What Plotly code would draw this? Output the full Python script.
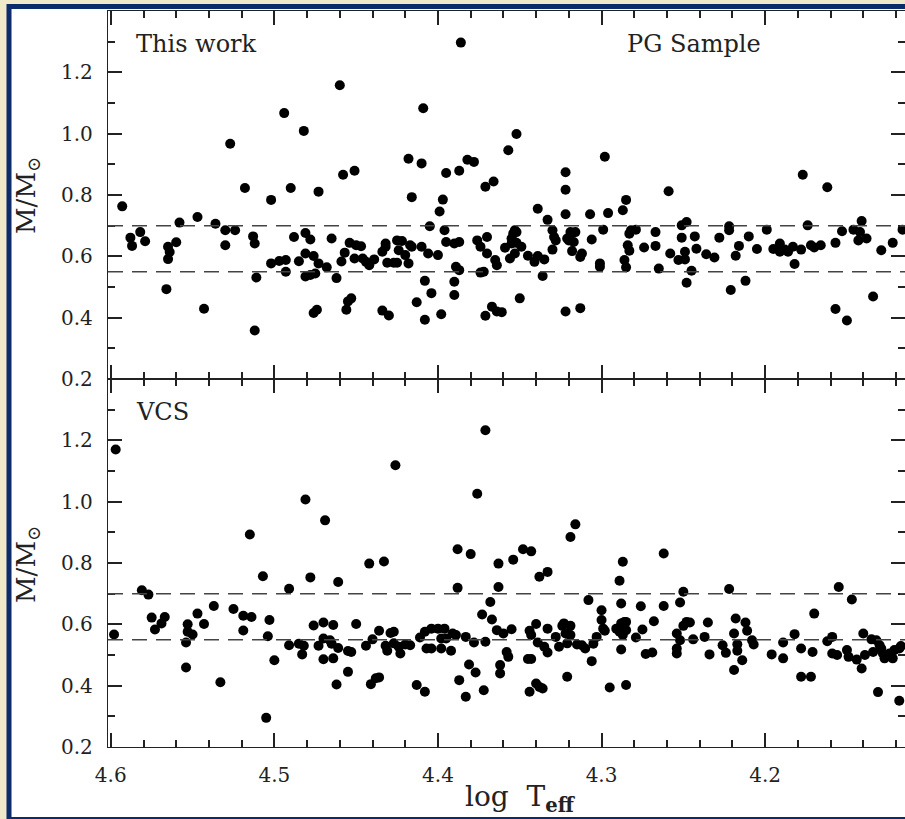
import plotly.graph_objects as go

# ---------------- data ----------------
xtick_vals = [4.6, 4.5, 4.4, 4.3, 4.2]
xtick_text = ["4.6", "4.5", "4.4", "4.3", "4.2"]
ytick_vals = [0.2, 0.4, 0.6, 0.8, 1.0, 1.2]
ytick_text = ["0.2", "0.4", "0.6", "0.8", "1.0", "1.2"]
ref_masses = [0.55, 0.70]

# Upper panel: "This work" / PG Sample
top_logT = [
    4.593, 4.588, 4.587, 4.582, 4.579, 4.566, 4.565, 4.564, 4.565, 4.560,
    4.558, 4.547, 4.543, 4.536, 4.530, 4.530, 4.524, 4.518, 4.513, 4.512,
    4.511, 4.512, 4.502, 4.502, 4.497, 4.493, 4.493, 4.490, 4.488, 4.485,
    4.481, 4.481, 4.478, 4.476, 4.481, 4.478, 4.475, 4.473, 4.473, 4.476,
    4.474, 4.468, 4.465, 4.462, 4.459, 4.458, 4.451, 4.457, 4.454, 4.456,
    4.455, 4.453, 4.451, 4.447, 4.450, 4.446, 4.444, 4.442, 4.439, 4.434,
    4.432, 4.432, 4.434, 4.430, 4.431, 4.427, 4.425, 4.425, 4.422, 4.424,
    4.420, 4.418, 4.418, 4.416, 4.417, 4.416, 4.410, 4.410, 4.406, 4.405,
    4.408, 4.404, 4.413, 4.408, 4.400, 4.398, 4.399, 4.397, 4.396, 4.395,
    4.395, 4.390, 4.387, 4.389, 4.387, 4.390, 4.390, 4.387, 4.382, 4.378,
    4.376, 4.374, 4.370, 4.371, 4.366, 4.370, 4.374, 4.372, 4.365, 4.364,
    4.367, 4.364, 4.371, 4.527, 4.494, 4.482, 4.460, 4.409, 4.386, 4.357,
    4.352, 4.361, 4.359, 4.356, 4.355, 4.354, 4.353, 4.352, 4.355, 4.352,
    4.353, 4.350, 4.349, 4.345, 4.341, 4.339, 4.339, 4.336, 4.335, 4.333,
    4.330, 4.330, 4.329, 4.328, 4.322, 4.322, 4.322, 4.321, 4.319, 4.318,
    4.316, 4.320, 4.317, 4.318, 4.313, 4.312, 4.322, 4.313, 4.307, 4.306,
    4.301, 4.301, 4.299, 4.298, 4.296, 4.287, 4.285, 4.283, 4.282, 4.279,
    4.284, 4.283, 4.286, 4.285, 4.274, 4.267, 4.267, 4.265, 4.259, 4.258,
    4.253, 4.251, 4.248, 4.251, 4.249, 4.249, 4.248, 4.245, 4.243, 4.242,
    4.236, 4.231, 4.228, 4.222, 4.222, 4.221, 4.218, 4.216, 4.212, 4.210,
    4.205, 4.199, 4.195, 4.191, 4.191, 4.188, 4.186, 4.183, 4.182, 4.178,
    4.177, 4.174, 4.172, 4.170, 4.166, 4.162, 4.157, 4.157, 4.153, 4.150,
    4.146, 4.143, 4.141, 4.142, 4.138, 4.134, 4.129, 4.122, 4.116,
]
top_mass = [
    0.763, 0.661, 0.634, 0.679, 0.649, 0.493, 0.591, 0.614, 0.631, 0.646,
    0.710, 0.728, 0.429, 0.706, 0.685, 0.636, 0.685, 0.823, 0.665, 0.642,
    0.531, 0.358, 0.784, 0.577, 0.585, 0.588, 0.550, 0.823, 0.663, 0.584,
    0.676, 0.609, 0.655, 0.601, 0.534, 0.539, 0.544, 0.577, 0.811, 0.415,
    0.426, 0.564, 0.658, 0.529, 0.583, 0.866, 0.879, 0.612, 0.644, 0.426,
    0.453, 0.463, 0.593, 0.633, 0.636, 0.593, 0.582, 0.571, 0.590, 0.615,
    0.642, 0.631, 0.423, 0.407, 0.579, 0.579, 0.579, 0.652, 0.650, 0.620,
    0.604, 0.577, 0.918, 0.793, 0.636, 0.631, 0.903, 0.631, 0.609, 0.698,
    0.520, 0.480, 0.450, 0.393, 0.604, 0.411, 0.746, 0.785, 0.685, 0.872,
    0.647, 0.642, 0.647, 0.566, 0.555, 0.517, 0.474, 0.879, 0.915, 0.908,
    0.652, 0.631, 0.663, 0.827, 0.844, 0.609, 0.547, 0.550, 0.588, 0.571,
    0.436, 0.420, 0.406, 0.967, 1.067, 1.009, 1.158, 1.083, 1.297, 0.946,
    0.999, 0.418, 0.628, 0.593, 0.658, 0.674, 0.685, 0.679, 0.642, 0.644,
    0.609, 0.463, 0.631, 0.602, 0.582, 0.755, 0.601, 0.536, 0.590, 0.719,
    0.622, 0.685, 0.663, 0.652, 0.874, 0.817, 0.737, 0.658, 0.679, 0.676,
    0.679, 0.652, 0.647, 0.617, 0.598, 0.609, 0.420, 0.431, 0.737, 0.655,
    0.577, 0.566, 0.687, 0.925, 0.741, 0.750, 0.784, 0.674, 0.685, 0.687,
    0.636, 0.618, 0.588, 0.564, 0.629, 0.679, 0.634, 0.560, 0.812, 0.609,
    0.588, 0.701, 0.712, 0.661, 0.615, 0.590, 0.514, 0.553, 0.665, 0.625,
    0.607, 0.596, 0.661, 0.698, 0.685, 0.490, 0.602, 0.634, 0.520, 0.665,
    0.624, 0.687, 0.624, 0.642, 0.615, 0.622, 0.615, 0.631, 0.575, 0.622,
    0.866, 0.701, 0.636, 0.629, 0.636, 0.825, 0.644, 0.428, 0.682, 0.391,
    0.687, 0.652, 0.715, 0.679, 0.658, 0.469, 0.620, 0.644, 0.687,
]

# Lower panel: VCS
vcs_logT = [
    4.598, 4.581, 4.577, 4.575, 4.573, 4.569, 4.567, 4.554, 4.554, 4.553,
    4.553, 4.550, 4.547, 4.543, 4.537, 4.533, 4.525, 4.519, 4.519, 4.514,
    4.515, 4.507, 4.503, 4.504, 4.505, 4.500, 4.491, 4.491, 4.485, 4.482,
    4.483, 4.481, 4.478, 4.476, 4.473, 4.470, 4.470, 4.470, 4.469, 4.466,
    4.464, 4.465, 4.464, 4.461, 4.461, 4.462, 4.455, 4.455, 4.453, 4.450,
    4.444, 4.442, 4.441, 4.440, 4.438, 4.436, 4.436, 4.433, 4.432, 4.431,
    4.429, 4.427, 4.427, 4.424, 4.423, 4.420, 4.417, 4.413, 4.411, 4.408,
    4.408, 4.407, 4.404, 4.404, 4.400, 4.398, 4.398, 4.396, 4.395, 4.392,
    4.391, 4.389, 4.388, 4.388, 4.387, 4.383, 4.383, 4.380, 4.381, 4.378,
    4.377, 4.376, 4.373, 4.372, 4.371, 4.368, 4.367, 4.364, 4.363, 4.363,
    4.362, 4.362, 4.597, 4.371, 4.426, 4.360, 4.358, 4.357, 4.355, 4.354,
    4.348, 4.343, 4.344, 4.343, 4.340, 4.345, 4.343, 4.344, 4.340, 4.338,
    4.336, 4.338, 4.333, 4.339, 4.335, 4.333, 4.333, 4.328, 4.326, 4.324,
    4.323, 4.322, 4.321, 4.319, 4.319, 4.321, 4.319, 4.316, 4.315, 4.312,
    4.310, 4.308, 4.306, 4.305, 4.303, 4.300, 4.300, 4.299, 4.298, 4.295,
    4.291, 4.289, 4.288, 4.287, 4.288, 4.286, 4.285, 4.289, 4.287, 4.285,
    4.288, 4.285, 4.279, 4.276, 4.275, 4.273, 4.269, 4.268, 4.262, 4.262,
    4.254, 4.254, 4.254, 4.252, 4.252, 4.250, 4.250, 4.248, 4.246, 4.244,
    4.237, 4.235, 4.234, 4.226, 4.224, 4.222, 4.219, 4.219, 4.218, 4.217,
    4.217, 4.214, 4.212, 4.211, 4.208, 4.207, 4.196, 4.189, 4.189, 4.182,
    4.178, 4.178, 4.172, 4.171, 4.170, 4.162, 4.159, 4.159, 4.156, 4.155,
    4.150, 4.149, 4.147, 4.144, 4.141, 4.140, 4.139, 4.135, 4.134, 4.132,
    4.131, 4.130, 4.129, 4.128, 4.127, 4.124, 4.122, 4.121, 4.118, 4.117, 4.118,
]
vcs_mass = [
    0.567, 0.711, 0.697, 0.622, 0.583, 0.603, 0.624, 0.459, 0.541, 0.600,
    0.576, 0.567, 0.635, 0.601, 0.660, 0.411, 0.650, 0.628, 0.580, 0.624,
    0.893, 0.757, 0.614, 0.561, 0.295, 0.483, 0.716, 0.532, 0.537, 0.530,
    0.502, 1.007, 0.753, 0.596, 0.530, 0.606, 0.554, 0.486, 0.939, 0.548,
    0.598, 0.537, 0.489, 0.738, 0.523, 0.404, 0.445, 0.513, 0.510, 0.601,
    0.530, 0.798, 0.405, 0.551, 0.424, 0.427, 0.579, 0.805, 0.530, 0.514,
    0.572, 0.576, 0.538, 0.527, 0.505, 0.534, 0.532, 0.402, 0.557, 0.380,
    0.576, 0.521, 0.586, 0.521, 0.586, 0.554, 0.521, 0.586, 0.554, 0.514,
    0.570, 0.565, 0.845, 0.719, 0.418, 0.364, 0.559, 0.829, 0.469, 0.541,
    0.443, 1.026, 0.632, 0.385, 0.543, 0.673, 0.616, 0.581, 0.798, 0.722,
    0.467, 0.440, 1.170, 1.233, 1.119, 0.570, 0.510, 0.494, 0.584, 0.811,
    0.845, 0.838, 0.579, 0.565, 0.601, 0.487, 0.487, 0.380, 0.407, 0.396,
    0.391, 0.755, 0.771, 0.541, 0.527, 0.508, 0.586, 0.559, 0.527, 0.595,
    0.603, 0.570, 0.538, 0.595, 0.565, 0.429, 0.885, 0.926, 0.534, 0.532,
    0.521, 0.679, 0.480, 0.537, 0.559, 0.646, 0.614, 0.586, 0.579, 0.394,
    0.586, 0.742, 0.668, 0.804, 0.603, 0.608, 0.608, 0.576, 0.565, 0.581,
    0.518, 0.402, 0.557, 0.659, 0.583, 0.503, 0.508, 0.610, 0.660, 0.831,
    0.521, 0.505, 0.570, 0.548, 0.671, 0.706, 0.595, 0.608, 0.606, 0.551,
    0.559, 0.606, 0.502, 0.532, 0.507, 0.715, 0.570, 0.451, 0.619, 0.535,
    0.514, 0.483, 0.606, 0.579, 0.548, 0.534, 0.502, 0.541, 0.489, 0.568,
    0.521, 0.429, 0.429, 0.510, 0.635, 0.545, 0.559, 0.505, 0.500, 0.722,
    0.516, 0.494, 0.681, 0.485, 0.456, 0.570, 0.500, 0.551, 0.510, 0.548,
    0.379, 0.532, 0.521, 0.505, 0.489, 0.505, 0.489, 0.516, 0.521, 0.529, 0.351,
]

assert len(top_logT) == len(top_mass)
assert len(vcs_logT) == len(vcs_mass)

# ---------------- style ----------------
FONT = "DejaVu Serif"
AX = "#222222"
NAVY = "#0b2b6b"
CREAM = "#efe9c9"

W, H = 905, 819
ML, MR, MT, MB = 108, 0, 11, 72
PW, PH = W - ML - MR, H - MT - MB


def px_x(px):
    return (px - ML) / PW


def px_y(py):
    return (H - MB - py) / PH


marker = dict(color="black", size=10, line=dict(width=0))

fig = go.Figure()
fig.add_trace(go.Scatter(x=top_logT, y=top_mass, mode="markers", marker=marker,
                         xaxis="x2", yaxis="y2", showlegend=False, hoverinfo="x+y"))
fig.add_trace(go.Scatter(x=vcs_logT, y=vcs_mass, mode="markers", marker=marker,
                         xaxis="x", yaxis="y", showlegend=False, hoverinfo="x+y"))

xcommon = dict(
    range=[4.6017, 4.1145], showgrid=False, zeroline=False,
    showline=True, linecolor=AX, linewidth=1.3, mirror="allticks",
    ticks="inside", ticklen=14, tickwidth=1.5, tickcolor=AX,
    tickmode="array", tickvals=xtick_vals, ticktext=xtick_text,
    minor=dict(ticks="inside", ticklen=7, tickwidth=1.5, tickcolor=AX,
               tick0=4.6, dtick=0.02, showgrid=False),
    tickfont=dict(family=FONT, size=20, color=AX),
)
ycommon = dict(
    range=[0.2, 1.4], showgrid=False, zeroline=False,
    showline=True, linecolor=AX, linewidth=1.3, mirror="allticks",
    ticks="inside", ticklen=14, tickwidth=1.5, tickcolor=AX,
    tickmode="array", tickvals=ytick_vals, ticktext=ytick_text,
    minor=dict(ticks="inside", ticklen=7, tickwidth=1.5, tickcolor=AX,
               tickmode="array", tickvals=[0.3, 0.5, 0.7, 0.9, 1.1, 1.3],
               showgrid=False),
    tickfont=dict(family=FONT, size=20, color=AX),
    ticklabelstandoff=10,
)

fig.update_layout(
    width=W, height=H, autosize=False,
    margin=dict(l=ML, r=MR, t=MT, b=MB, pad=0),
    paper_bgcolor=CREAM, plot_bgcolor="white",
    xaxis=dict(domain=[0, 1], anchor="y", ticklabelstandoff=10, **xcommon),
    xaxis2=dict(domain=[0, 1], anchor="y2", matches="x", showticklabels=False, **xcommon),
    yaxis=dict(domain=[0, 0.5], anchor="x", **ycommon),
    yaxis2=dict(domain=[0.5, 1], anchor="x2", **ycommon),
)

# frame (white card with navy border)
fig.add_shape(type="rect", xref="paper", yref="paper", layer="below",
              x0=px_x(9), x1=px_x(912), y0=px_y(819.5), y1=px_y(6.5),
              fillcolor="white", line=dict(color=NAVY, width=5))

# dashed reference lines
for yref in ["y", "y2"]:
    for m in ref_masses:
        fig.add_shape(type="line", xref="x domain" if yref == "y" else "x2 domain",
                      yref=yref, x0=0, x1=1, y0=m, y1=m,
                      line=dict(color="#444444", width=1.5, dash="15px,9px"))

ann_font = dict(family=FONT, size=24, color=AX)
fig.add_annotation(text="This work", xref="paper", yref="paper",
                   x=px_x(134), y=px_y(44), xanchor="left", yanchor="middle",
                   showarrow=False, font=ann_font)
fig.add_annotation(text="PG Sample", xref="paper", yref="paper",
                   x=px_x(625), y=px_y(44), xanchor="left", yanchor="middle",
                   showarrow=False, font=ann_font)
fig.add_annotation(text="VCS", xref="paper", yref="paper",
                   x=px_x(134), y=px_y(412), xanchor="left", yanchor="middle",
                   showarrow=False, font=ann_font)

ytitle = "M/M<sub>\u2299</sub>"
for yc in [196, 565]:
    fig.add_annotation(text=ytitle, xref="paper", yref="paper",
                       x=px_x(27), y=px_y(yc), xanchor="center", yanchor="middle",
                       textangle=-90, showarrow=False,
                       font=dict(family=FONT, size=26, color=AX))

fig.add_annotation(text="log  T<sub><b>eff</b></sub>", xref="paper", yref="paper",
                   x=px_x(520), y=px_y(798), xanchor="center", yanchor="middle",
                   showarrow=False, font=dict(family=FONT, size=28, color=AX))

fig.write_html(
    "out.html",
    config={"displayModeBar": False},
    post_script=(
        "document.body.style.margin='0';"
        "document.body.style.overflow='hidden';"
        "document.documentElement.style.overflow='hidden';"
    ),
)
